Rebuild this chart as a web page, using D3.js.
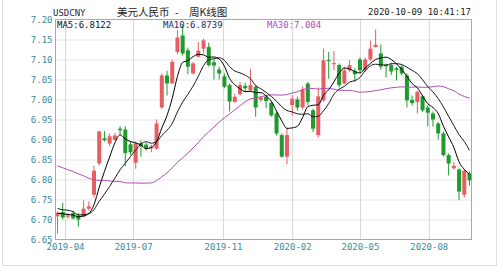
<!DOCTYPE html>
<html><head><meta charset="utf-8">
<script src="https://cdn.jsdelivr.net/npm/d3@7"></script>
<style>
html,body{margin:0;padding:0;background:#fff;}
svg{display:block;}
</style></head>
<body>
<svg id="c" width="499" height="268"></svg>
<script>
// ---- data (weekly USDCNY, 80 candles) ----
const opens  = [6.708,6.719,6.707,6.716,6.710,6.707,6.727,6.762,6.840,6.903,6.890,6.899,6.927,6.925,6.888,6.842,6.891,6.887,6.878,6.877,6.980,7.060,7.040,7.119,7.160,7.123,7.065,7.107,7.127,7.131,7.093,7.075,7.058,7.036,6.994,7.013,7.034,7.023,7.032,6.999,7.007,6.992,6.965,6.911,6.857,6.986,7.000,6.980,7.040,6.973,6.911,6.998,7.099,7.088,7.086,7.040,7.073,7.072,7.100,7.073,7.100,7.131,7.115,7.087,7.086,7.078,7.082,7.060,6.999,6.994,7.008,6.980,6.965,6.940,6.915,6.861,6.828,6.825,6.762,6.815];
const highs  = [6.720,6.742,6.716,6.722,6.716,6.748,6.745,6.835,6.922,6.921,6.915,6.916,6.933,6.933,6.895,6.895,6.898,6.892,6.887,6.950,7.065,7.072,7.100,7.173,7.186,7.130,7.094,7.144,7.152,7.142,7.100,7.082,7.065,7.040,7.015,7.044,7.042,7.077,7.036,7.008,7.011,6.994,6.970,6.915,6.930,7.011,7.007,7.033,7.044,6.977,7.030,7.127,7.119,7.121,7.090,7.082,7.098,7.078,7.105,7.105,7.147,7.175,7.138,7.090,7.092,7.082,7.086,7.065,7.010,7.023,7.011,6.986,6.970,6.944,6.920,6.865,6.844,6.828,6.824,6.820];
const lows   = [6.665,6.700,6.702,6.700,6.682,6.705,6.722,6.755,6.835,6.895,6.883,6.897,6.912,6.833,6.862,6.827,6.857,6.872,6.868,6.875,6.977,7.010,7.040,7.113,7.110,7.063,7.063,7.105,7.115,7.082,7.050,7.050,7.028,6.970,6.992,7.010,7.019,7.020,6.957,6.994,6.978,6.957,6.910,6.855,6.838,6.960,6.972,6.975,6.986,6.919,6.905,6.994,7.052,7.073,7.030,7.038,7.068,7.044,7.068,7.068,7.097,7.130,7.075,7.055,7.061,7.048,7.060,6.980,6.985,6.965,6.969,6.933,6.932,6.900,6.857,6.810,6.825,6.748,6.755,6.785];
const closes = [6.717,6.705,6.710,6.703,6.700,6.727,6.733,6.822,6.920,6.898,6.908,6.910,6.923,6.866,6.868,6.890,6.883,6.878,6.882,6.940,7.060,7.040,7.094,7.155,7.115,7.082,7.090,7.122,7.148,7.086,7.085,7.065,7.032,6.995,7.007,7.036,7.028,7.036,6.980,7.005,6.996,6.960,6.915,6.857,6.911,7.002,6.980,7.025,6.994,6.927,7.008,7.098,7.096,7.091,7.036,7.073,7.086,7.063,7.073,7.100,7.127,7.137,7.082,7.083,7.070,7.074,7.065,6.998,6.991,7.019,6.973,6.967,6.950,6.915,6.861,6.840,6.834,6.770,6.822,6.798];
// closes of the 29 weeks before the first visible candle (for the moving averages)
const priorCloses = [6.84,6.86,6.84,6.87,6.87,6.92,6.94,6.96,6.90,6.96,6.93,6.94,6.96,6.88,6.89,6.90,6.87,6.87,6.76,6.78,6.74,6.72,6.74,6.78,6.72,6.71,6.72,6.71,6.72];
const yTicks = [7.20,7.15,7.10,7.05,7.00,6.95,6.90,6.85,6.80,6.75,6.70,6.65];
const xTickLabels = ["2019-04","2019-07","2019-11","2020-02","2020-05","2020-08"];
const xTickIndex  = [1.45,14.5,31.75,45,58,71.2];
const maLabels = ["MA5:6.8122","MA10:6.8739","MA30:7.004"];
const titleCode = "USDCNY";
const titleParts = ["美元人民币","-","周K线图"];
const timeStamp = "2020-10-09 10:41:17";

// ---- layout ----
const L = 55.5, R = 471.5, T = 19.5, B = 239.5;
const svg = d3.select("#c");
const x = d3.scaleLinear().domain([0, closes.length - 1]).range([57.5, 469.5]);
const y = d3.scaleLinear().domain([6.65, 7.20]).range([B, T]);
const bodyW = 4;

const RED = "#e65e62", GREEN = "#1f9a2c", TEAL = "#3a8c9c";
const mono = "DejaVu Sans Mono, monospace";

// outer frame
svg.append("path").attr("d", `M2.5,0V265.5H496.5V0`).attr("fill","none").attr("stroke","#dcdcdc");

// horizontal grid (dotted)
svg.append("g").attr("transform", `translate(${L},0)`)
  .call(d3.axisRight(y).tickValues(yTicks.slice(1, -1)).tickSize(R - L).tickFormat(""))
  .call(g => g.select(".domain").remove())
  .call(g => g.selectAll("line").attr("stroke","#cfcfcf").attr("stroke-dasharray","1,1"));

// vertical grid
svg.append("g").attr("transform", `translate(0,${B})`)
  .call(d3.axisTop(x).tickValues(xTickIndex).tickSize(B - T + 1).tickFormat(""))
  .call(g => g.select(".domain").remove())
  .call(g => g.selectAll("line").attr("stroke","#d6d6d6"));

// plot border
svg.append("rect").attr("x", L).attr("y", T).attr("width", R - L).attr("height", B - T)
  .attr("fill","none").attr("stroke","#a8a8a8");

// y axis labels
svg.append("g").attr("transform", `translate(${L - 2},0)`)
  .call(d3.axisLeft(y).tickValues(yTicks).tickSize(0).tickPadding(1).tickFormat(d3.format(".2f")))
  .call(g => g.select(".domain").remove())
  .call(g => g.selectAll("text").attr("fill", TEAL).attr("font-size", "9px").attr("font-family", mono));

// x axis labels
svg.append("g").attr("transform", `translate(0,${B})`)
  .call(d3.axisBottom(x).tickValues(xTickIndex).tickSize(0).tickPadding(4)
    .tickFormat((d, i) => xTickLabels[i]))
  .call(g => g.select(".domain").remove())
  .call(g => g.selectAll("text").attr("fill", TEAL).attr("font-size", "9px").attr("font-family", mono));

// moving averages
const all = priorCloses.concat(closes);
function ma(n) {
  return closes.map((c, i) => {
    const end = priorCloses.length + i + 1;
    return d3.mean(all.slice(end - n, end));
  });
}
const line = d3.line().x((d, i) => x(i)).y(d => y(d)).curve(d3.curveMonotoneX);
svg.append("clipPath").attr("id","pc").append("rect")
  .attr("x", L).attr("y", T).attr("width", R - L).attr("height", B - T);
const plot = svg.append("g").attr("clip-path","url(#pc)");

// candles
const idx = d3.range(closes.length);
const cg = plot.append("g");
idx.forEach(i => {
  const up = closes[i] >= opens[i];
  const col = up ? RED : GREEN;
  cg.append("line").attr("x1", x(i)).attr("x2", x(i))
    .attr("y1", y(highs[i])).attr("y2", y(lows[i])).attr("stroke", col).attr("stroke-width", 1);
  const top = y(Math.max(opens[i], closes[i])), bot = y(Math.min(opens[i], closes[i]));
  cg.append("rect").attr("x", x(i) - bodyW / 2).attr("y", top)
    .attr("width", bodyW).attr("height", Math.max(1, bot - top)).attr("fill", col);
});

plot.append("path").datum(ma(30)).attr("d", line).attr("fill","none").attr("stroke","#b04cb4").attr("stroke-width",1);
plot.append("path").datum(ma(10)).attr("d", line).attr("fill","none").attr("stroke","#1a1a1a").attr("stroke-width",1);
plot.append("path").datum(ma(5)).attr("d", line).attr("fill","none").attr("stroke","#000").attr("stroke-width",1);

// header texts
svg.append("text").attr("x", 53).attr("y", 16).attr("font-family", mono).attr("font-size","9px")
  .attr("fill","#1c2a50").text(titleCode);
const tt = svg.append("text").attr("y", 16).attr("font-family","Noto Sans CJK SC, sans-serif")
  .attr("font-size","10.5px").attr("fill","#222");
const partX = [117, 175, 189];
titleParts.forEach((p, i) => tt.append("tspan").attr("x", partX[i]).text(p));
svg.append("text").attr("x", 471).attr("y", 15).attr("text-anchor","end").attr("font-family", mono)
  .attr("font-size","9px").attr("fill","#222").text(timeStamp);
const maColors = ["#111","#1c2a60","#b04cb4"];
const maX = [57, 163, 267];
maLabels.forEach((t, i) => {
  svg.append("text").attr("x", maX[i]).attr("y", 28).attr("font-family", mono)
    .attr("font-size","9px").attr("fill", maColors[i]).text(t);
});
</script>
</body></html>
